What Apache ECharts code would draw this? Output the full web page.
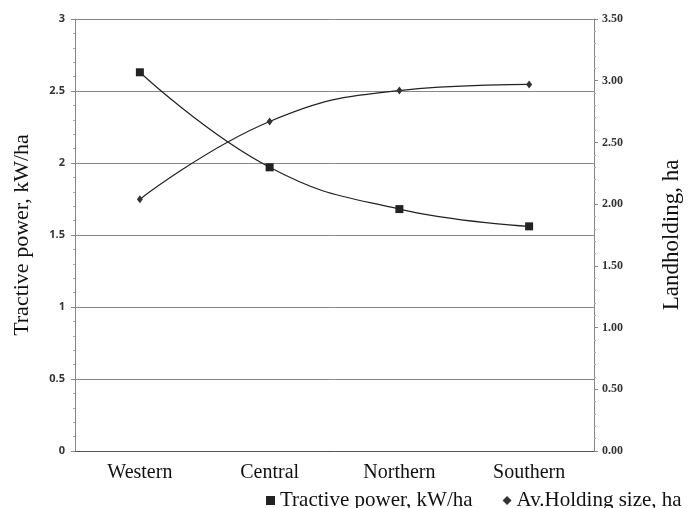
<!DOCTYPE html>
<html><head><meta charset="utf-8">
<script src="https://cdn.jsdelivr.net/npm/echarts@6/dist/echarts.min.js"></script>
<style>html,body{margin:0;padding:0;background:#fff}#c{width:691px;height:508px}</style>
</head><body><div id="c"></div>
<script>
const categories = ['Western', 'Central', 'Northern', 'Southern'];
const tractivePower = [2.63, 1.97, 1.68, 1.56];
const holdingSize = [2.04, 2.67, 2.92, 2.97];
const leftTicks = {min: 0, max: 3, interval: 0.5};
const rightTicks = {min: 0, max: 3.5, interval: 0.5};

const chart = echarts.init(document.getElementById('c'), null, {renderer: 'canvas'});
const serif = '"Liberation Serif", "DejaVu Serif", serif';
chart.setOption({
  animation: false,
  backgroundColor: '#fff',
  grid: {left: 75, right: 95, top: 19, bottom: 57, containLabel: false},
  legend: {
    left: 266, top: 490, padding: 0, itemGap: 30, itemWidth: 9, itemHeight: 9,
    textStyle: {fontFamily: serif, fontSize: 21, color: '#111'},
    data: [
      {name: 'Tractive power, kW/ha', icon: 'rect'},
      {name: 'Av.Holding size, ha', icon: 'diamond'}
    ]
  },
  xAxis: {
    type: 'category', data: categories, boundaryGap: true,
    axisLine: {lineStyle: {color: '#555', width: 1}},
    axisTick: {show: false},
    axisLabel: {fontFamily: serif, fontSize: 20, color: '#111', margin: 12}
  },
  yAxis: [
    {
      type: 'value', position: 'left', min: leftTicks.min, max: leftTicks.max, interval: leftTicks.interval,
      name: 'Tractive power, kW/ha', nameLocation: 'middle', nameGap: 42, nameRotate: 90,
      nameTextStyle: {fontFamily: serif, fontSize: 22, color: '#111'},
      axisLine: {show: true, lineStyle: {color: '#888'}},
      axisTick: {show: true, length: 4, lineStyle: {color: '#888'}},
      minorTick: {show: true, splitNumber: 5, length: 2, lineStyle: {color: '#aaa'}},
      axisLabel: {fontFamily: '"Open Sans", sans-serif', fontSize: 11, fontWeight: 'bold', color: '#333', margin: 10,
        formatter: v => String(v)},
      splitLine: {show: true, lineStyle: {color: '#888', width: 1}}
    },
    {
      type: 'value', position: 'right', min: rightTicks.min, max: rightTicks.max, interval: rightTicks.interval,
      name: 'Landholding, ha', nameLocation: 'middle', nameGap: 66, nameRotate: 90,
      nameTextStyle: {fontFamily: serif, fontSize: 23, color: '#111'},
      axisLine: {show: true, lineStyle: {color: '#888'}},
      axisTick: {show: true, length: 4, lineStyle: {color: '#888'}},
      minorTick: {show: true, splitNumber: 5, length: 2, lineStyle: {color: '#aaa'}},
      axisLabel: {fontFamily: serif, fontSize: 12, fontWeight: 'bold', color: '#333', margin: 8,
        formatter: v => v.toFixed(2)},
      splitLine: {show: false}
    }
  ],
  series: [
    {
      name: 'Tractive power, kW/ha', type: 'line', yAxisIndex: 0, data: tractivePower,
      smooth: 0.45, symbol: 'rect', symbolSize: 8,
      itemStyle: {color: '#222'}, lineStyle: {color: '#222', width: 1.2}
    },
    {
      name: 'Av.Holding size, ha', type: 'line', yAxisIndex: 1, data: holdingSize,
      smooth: 0.45, symbol: 'diamond', symbolSize: [6, 8],
      itemStyle: {color: '#333'}, lineStyle: {color: '#222', width: 1.2}
    }
  ]
});
</script></body></html>
